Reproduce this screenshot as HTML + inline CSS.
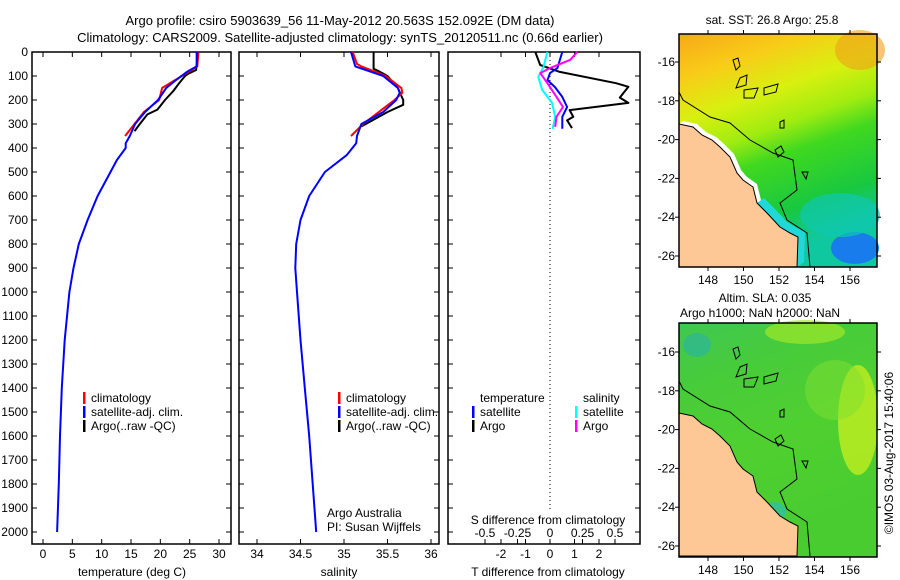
<!DOCTYPE html>
<html><head><meta charset="utf-8"><style>
body{margin:0;background:#fff;}
svg{display:block;font-family:"Liberation Sans",sans-serif;font-size:12px;}
text{fill:#000;}
</style></head><body>
<svg id="c" width="900" height="580" viewBox="0 0 900 580" xmlns="http://www.w3.org/2000/svg">
<text x="340" y="25" text-anchor="middle" font-size="13">Argo profile: csiro 5903639_56 11-May-2012 20.563S 152.092E (DM data)</text>
<text x="340" y="42" text-anchor="middle" font-size="13">Climatology: CARS2009. Satellite-adjusted climatology: synTS_20120511.nc (0.66d earlier)</text>
<g id="g"></g>
</svg>
<script>
// ---------- data ----------
const depthTicks=[0,100,200,300,400,500,600,700,800,900,1000,1100,1200,1300,1400,1500,1600,1700,1800,1900,2000];
const tempTicks=[0,5,10,15,20,25,30];
const salTicks=[34,34.5,35,35.5,36];
const tdiffTicks=[-2,-1,0,1,2];
const sdiffTicks=[-0.5,-0.25,0,0.25,0.5];
const sdiffLabels=["-0.5","-0.25","0","0.25","0.5"];
// temperature
const argoTDepth=[0,50,75,90,100,130,160,200,240,260,300,330];
const argoT=[26.2,26.2,26.1,24.8,24.2,23.2,22.3,20.8,19.5,17.8,16.5,15.6];
const climTDepth=[0,60,80,120,150,200,250,300,350];
const climT=[26.5,26.3,25.0,22.3,20.3,19.8,17.2,15.6,14.0];
const satTDepth=[0,60,80,120,150,200,250,300,350,380,400,450,500,600,700,800,900,1000,1200,1400,1600,1800,2000];
const satT=[26.3,26.2,24.7,22.5,21.0,19.6,17.4,15.7,14.8,14.1,14.1,12.6,11.5,9.3,7.6,6.1,5.2,4.5,3.7,3.2,2.9,2.7,2.4];
// salinity
const argoSDepth=[0,70,80,100,150,200,220,250,290,310];
const argoS=[35.34,35.34,35.4,35.5,35.62,35.68,35.68,35.5,35.3,35.2];
const climSDepth=[0,50,60,100,150,170,200,250,300,350];
const climS=[35.1,35.15,35.2,35.48,35.66,35.67,35.58,35.4,35.22,35.08];
const satSDepth=[0,60,100,150,170,200,250,300,350,380,430,500,600,700,800,900,1000,1200,1400,1600,1800,2000];
const satS=[35.08,35.13,35.45,35.62,35.64,35.6,35.45,35.2,35.15,35.14,35.03,34.78,34.6,34.5,34.45,34.44,34.46,34.5,34.55,34.6,34.64,34.68];
// differences
const argoTdDepth=[0,54,83,130,145,190,212,242,270,285,317];
const argoTd=[-0.6,-0.4,0.4,2.7,3.2,2.85,3.2,0.8,0.95,0.7,0.9];
const satTdDepth=[0,67,88,117,146,187,229,270,320];
const satTd=[0.5,0.3,0.0,-0.1,0.2,0.5,0.7,0.5,0.5];
const satSdDepth=[0,62,104,158,212,270,320];
const satSd=[-0.02,-0.05,-0.09,-0.06,0.015,0.04,0.02];
const argoSdDepth=[0,33,67,88,130,187,229,270,312];
const argoSd=[0.21,0.155,0.0,-0.075,-0.02,0.05,0.1,0.05,0.04];
// maps
const lonTicks=[148,150,152,154,156];
const latTicks=[-16,-18,-20,-22,-24,-26];

// ---------- helpers ----------
const NS="http://www.w3.org/2000/svg";
const G=document.getElementById('g');
function mk(tag,attrs,parent){const e=document.createElementNS(NS,tag);for(const k in attrs)e.setAttribute(k,attrs[k]);(parent||G).appendChild(e);return e;}
function txt(x,y,s,anchor){const t=mk('text',{x:x,y:y,'text-anchor':anchor||'start'});t.textContent=s;return t;}
const TOP=52,BOT=544;
const yD=d=>TOP+d*0.24;
const xT=t=>43+t*5.867;
const xS=s=>257+(s-34)*87;
const xTd=t=>550+t*24.5;
const xSd=s=>550+s*130;

function frame(x0,x1,name){
  const r=mk('rect',{x:x0,y:TOP,width:x1-x0,height:BOT-TOP,fill:'none',stroke:'#000','stroke-width':1.5});
  
  
}
function depthAxis(x0,x1,labels){
  depthTicks.forEach(d=>{
    const y=yD(d);
    mk('line',{x1:x0,y1:y,x2:x0+5,y2:y,stroke:'#000'});
    mk('line',{x1:x1-5,y1:y,x2:x1,y2:y,stroke:'#000'});
    if(labels){const t=txt(28,y+4,String(d),'end');}
  });
}
function xAxis(ticks,fx){
  ticks.forEach(v=>{
    const x=fx(v);
    mk('line',{x1:x,y1:BOT,x2:x,y2:BOT-5,stroke:'#000'});
    mk('line',{x1:x,y1:TOP,x2:x,y2:TOP+5,stroke:'#000'});
    const t=txt(x,BOT+14,String(v),'middle');
    
    
  });
}
function line(vals,depths,fx,color,w,name){
  const pts=vals.map((v,i)=>fx(v).toFixed(1)+','+yD(depths[i]).toFixed(1)).join(' ');
  const p=mk('polyline',{points:pts,fill:'none',stroke:color,'stroke-width':w,'stroke-linejoin':'round'});
  
  
}
function legendRow(x,y,color,label,name){
  mk('rect',{x:x,y:y-6,width:2.5,height:12,fill:color});
  const t=txt(x+8,y+4,label);
  
  
}

// ---------- panel 1 ----------
frame(32,231,'temperature-panel');
depthAxis(32,231,true);
xAxis(tempTicks,xT);
line(argoT,argoTDepth,xT,'#000',2,'argo-temperature-line');
line(climT,climTDepth,xT,'#f00',2,'climatology-temperature-line');
line(satT,satTDepth,xT,'#00f',2,'satellite-temperature-line');
{const t=txt(132,576,'temperature (deg C)','middle');}
legendRow(83,398,'#f00','climatology','legend-climatology');
legendRow(83,412,'#00f','satellite-adj. clim.','legend-satellite');
legendRow(83,426,'#000','Argo(..raw -QC)','legend-argo');

// ---------- panel 2 ----------
frame(239,439,'salinity-panel');
depthAxis(239,439,false);
xAxis(salTicks,xS);
line(argoS,argoSDepth,xS,'#000',2,'argo-salinity-line');
line(climS,climSDepth,xS,'#f00',2,'climatology-salinity-line');
line(satS,satSDepth,xS,'#00f',2,'satellite-salinity-line');
{const t=txt(339,576,'salinity','middle');}
legendRow(338,398,'#f00','climatology','legend-climatology-2');
legendRow(338,412,'#00f','satellite-adj. clim.','legend-satellite-2');
legendRow(338,426,'#000','Argo(..raw -QC)','legend-argo-2');
{const t=txt(327,517,'Argo Australia');
 const u=txt(327,531,'PI: Susan Wijffels');}

// ---------- panel 3 ----------
frame(448,640,'difference-panel');
depthAxis(448,640,false);
xAxis(tdiffTicks,xTd);
mk('line',{x1:550,y1:TOP,x2:550,y2:510,stroke:'#000','stroke-dasharray':'1,3'});
line(argoTd,argoTdDepth,xTd,'#000',2,'argo-temperature-diff-line');
line(satTd,satTdDepth,xTd,'#00f',2,'satellite-temperature-diff-line');
line(satSd,satSdDepth,xSd,'#0ff',2,'satellite-salinity-diff-line');
line(argoSd,argoSdDepth,xSd,'#f0f',2,'argo-salinity-diff-line');
sdiffTicks.forEach((v,i)=>{
  const x=xSd(v);
  mk('line',{x1:x,y1:539,x2:x,y2:544,stroke:'#000'});
  const t=txt(x,537,sdiffLabels[i],'middle');
  
  
});
{const t=txt(548,524,'S difference from climatology','middle');
 const u=txt(548,576,'T difference from climatology','middle');}
{const t=txt(480,402,'temperature');
 const u=txt(583,402,'salinity');}
legendRow(472,412,'#00f','satellite','legend-t-satellite');
legendRow(472,426,'#000','Argo','legend-t-argo');
legendRow(575,412,'#0ff','satellite','legend-s-satellite');
legendRow(575,426,'#f0f','Argo','legend-s-argo');

// ---------- maps ----------
const MX0=679,MX1=877;
const lonX=l=>708+(l-148)*17.75;
const coast=[[679,124],[693,127],[702,135],[712,140],[720,147],[730,157],[737,173],[743,180],[753,187],[757,203],[767,213],[780,227],[790,233],[798,237],[797,267],[679,267]];
const shelf=[[679,92],[683,100],[710,117],[730,123],[750,140],[773,153],[793,160],[797,190],[780,203],[787,220],[807,233],[810,267]];
const reefs=[[[733,60],[738,58],[740,66],[736,70]],[[740,78],[747,75],[746,85],[736,88]],[[744,90],[758,88],[754,98],[744,98]],[[764,88],[778,84],[776,92],[764,95]],[[780,122],[784,120],[784,128],[780,128]],[[775,150],[781,146],[784,152],[778,157]],[[802,172],[808,172],[806,179]]];
function map(top,name,defsId,colors){
  const g=mk('g',{});
  
  
  const defs=mk('defs',{},g);
  const lg=mk('linearGradient',{id:defsId,x1:0,y1:0,x2:0.3,y2:1},defs);
  colors.forEach(c=>mk('stop',{offset:c[0],'stop-color':c[1]},lg));
  const H=(top===34?233:234);
  mk('rect',{x:MX0,y:top,width:MX1-MX0,height:H,fill:'url(#'+defsId+')'},g);
  const dy=top-34;
  return {g,dy,H};
}
function mapOverlay(m,top,latY0,blobs,white){
  const {g,dy,H}=m;
  blobs.forEach(b=>mk('ellipse',{cx:b[0],cy:b[1]+dy,rx:b[2],ry:b[3],fill:b[4],opacity:b[5]},g));
  if(white){
    mk('polygon',{points:coast.slice(0,15).map(p=>(p[0]+4)+','+(p[1]+dy-3)).join(' ')+' '+coast.slice(0,15).reverse().map(p=>p[0]+','+(p[1]+dy)).join(' '),fill:'#fff'},g);
    mk('polygon',{points:coast.slice(9,15).map(p=>(p[0]+7)+','+(p[1]+dy-5)).join(' ')+' '+coast.slice(9,15).reverse().map(p=>p[0]+','+(p[1]+dy)).join(' '),fill:'#20d8d8'},g);
  }
  mk('polygon',{points:coast.map(p=>p[0]+','+(p[1]+dy)).join(' '),fill:'#fdc896',stroke:'#000','stroke-width':1},g);
  mk('polyline',{points:shelf.map(p=>p[0]+','+(p[1]+dy)).join(' '),fill:'none',stroke:'#000','stroke-width':1},g);
  reefs.forEach(r=>mk('polygon',{points:r.map(p=>p[0]+','+(p[1]+dy)).join(' '),fill:'none',stroke:'#000','stroke-width':1},g));
  mk('rect',{x:MX0,y:top,width:MX1-MX0,height:H,fill:'none',stroke:'#000','stroke-width':1.5},g);
  const latY=l=>latY0+(-16-l)*19.4;
  latTicks.forEach(l=>{
    const y=latY(l);
    mk('line',{x1:MX0,y1:y,x2:MX0-4,y2:y,stroke:'#000'},g);
    mk('line',{x1:MX1,y1:y,x2:MX1+4,y2:y,stroke:'#000'},g);
    const t=txt(675,y+4,String(l),'end');
    
    
  });
  lonTicks.forEach(l=>{
    const x=lonX(l);
    mk('line',{x1:x,y1:top,x2:x,y2:top-4,stroke:'#000'},g);
    mk('line',{x1:x,y1:top+H,x2:x,y2:top+H+4,stroke:'#000'},g);
    const t=txt(x,top+H+17,String(l),'middle');
    
    
  });
}
const m1=map(34,'sst-map','sstg',[[0,'#f8a818'],[0.18,'#f8cc18'],[0.35,'#d8f010'],[0.5,'#a0ec10'],[0.62,'#40d820'],[0.85,'#18c840'],[1,'#10c8a0']]);
mapOverlay(m1,34,62,[[855,248,24,16,'#1a78f0',0.95],[840,215,40,22,'#10c8b0',0.7],[860,50,25,20,'#f0a018',0.6]],true);
const m2=map(323,'sla-map','slag',[[0,'#40c850'],[0.3,'#48cc38'],[0.6,'#50d030'],[1,'#48cc30']]);
mapOverlay(m2,323,352,[[697,345,14,12,'#30b890',0.8],[858,420,20,55,'#c0ee20',0.8],[805,332,40,12,'#a0e828',0.7],[774,512,12,10,'#30c0a0',0.8],[835,390,30,30,'#80e030',0.5]].map(b=>[b[0],b[1]-289,b[2],b[3],b[4],b[5]]),false);
{const t=txt(772,24,'sat. SST: 26.8 Argo: 25.8','middle');
 const u=txt(765,302,'Altim. SLA: 0.035','middle');
 const w=txt(760,317,'Argo h1000: NaN h2000: NaN','middle');
 const r=txt(0,0,'©IMOS 03-Aug-2017 15:40:06','middle');r.setAttribute('transform','translate(893,453) rotate(-90)');}
</script>
</body></html>
